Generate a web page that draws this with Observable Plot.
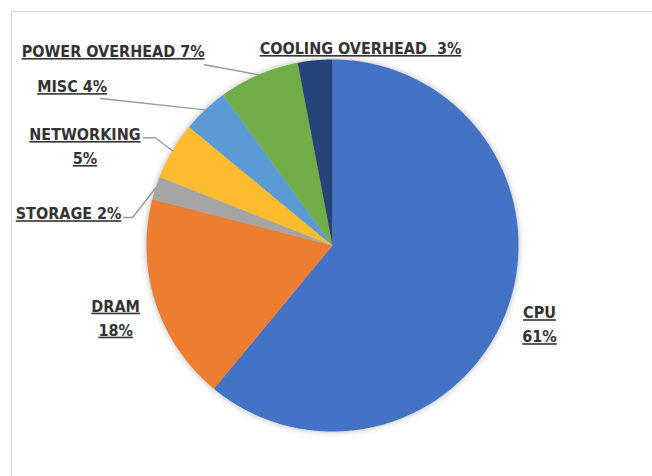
<!DOCTYPE html>
<html>
<head>
<meta charset="utf-8">
<script src="https://cdn.jsdelivr.net/npm/d3@7"></script>
<script src="https://cdn.jsdelivr.net/npm/@observablehq/plot@0.6"></script>
<style>
  html, body { margin: 0; padding: 0; background: #fff; }
  #wrap { position: relative; width: 652px; height: 476px; overflow: hidden; }
  #frame { position: absolute; left: 11px; top: 11px; width: 700px; height: 520px;
           border-left: 1.5px solid #d9d9d9; border-top: 1.5px solid #d9d9d9; pointer-events: none; }
  #chart svg text { text-decoration: underline; text-decoration-thickness: 1.5px; }
</style>
</head>
<body>
<div id="wrap"><div id="chart"></div><div id="frame"></div></div>
<script>
// ---- data ----
const categories = ["CPU", "DRAM", "STORAGE", "NETWORKING", "MISC", "POWER OVERHEAD", "COOLING OVERHEAD"];
const shares = [61, 18, 2, 5, 4, 7, 3];
const labelTexts = ["CPU\n61%", "DRAM\n18%", "STORAGE 2%", "NETWORKING\n5%", "MISC 4%", "POWER OVERHEAD 7%", "COOLING OVERHEAD  3%"];
const colors = ["#4472C4", "#ED7D31", "#A5A5A5", "#FDBB30", "#5B9BD5", "#70AD47", "#264478"];

// ---- layout (pixels, relative to the slice's outer mid point) ----
const R = 186;            // pie radius in px
const CX = 332, CY = 245; // pie centre in px
const W = 652, H = 476;
const labelOffset = {
  "CPU": [32, 14], "DRAM": [-40, 13], "STORAGE": [-87, 23.5], "NETWORKING": [-87.5, -6.5],
  "MISC": [-133, -25.5], "POWER OVERHEAD": [-145.5, -25.5], "COOLING OVERHEAD": [45.5, -14]
};
const leaderPts = {
  "STORAGE": [[-32, 29.5], [-23, 29.5]],
  "NETWORKING": [[-29, -13], [-17, -13]],
  "MISC": [[-104.6, -11.4]],
  "POWER OVERHEAD": [[-54, -10]]
};

const arcs = d3.pie().sort(null).value(d => d)(shares);
const slices = [];
const labels = [];
const leaders = [];
arcs.forEach((a, i) => {
  const cat = categories[i];
  slices.push({cat, x: 0, y: 0});
  const n = Math.max(2, Math.ceil((a.endAngle - a.startAngle) / 0.01));
  for (let k = 0; k <= n; k++) {
    const t = a.startAngle + (a.endAngle - a.startAngle) * k / n;
    slices.push({cat, x: Math.sin(t), y: Math.cos(t)});
  }
  slices.push({cat, x: 0, y: 0});
  const mid = (a.startAngle + a.endAngle) / 2;
  const mx = Math.sin(mid), my = Math.cos(mid);
  const [ox, oy] = labelOffset[cat];
  labels.push({cat, text: labelTexts[i], x: mx + ox / R, y: my - oy / R});
  if (leaderPts[cat]) {
    leaderPts[cat].forEach(([px, py]) => leaders.push({cat, x: mx + px / R, y: my - py / R}));
    leaders.push({cat, x: mx, y: my});
  }
});

const chart = Plot.plot({
  width: W, height: H,
  marginTop: 0, marginRight: 0, marginBottom: 0, marginLeft: 0,
  x: {domain: [-CX / R, (W - CX) / R], axis: null},
  y: {domain: [-(H - CY) / R, CY / R], axis: null},
  color: {domain: categories, range: colors},
  style: {fontFamily: "'Liberation Sans Narrow', 'DejaVu Sans Condensed', sans-serif", background: "transparent"},
  marks: [
    Plot.line(slices, {x: "x", y: "y", z: "cat", fill: "cat", stroke: "none", curve: "linear"}),
    Plot.line(leaders, {x: "x", y: "y", z: "cat", stroke: "#9a9a9a", strokeWidth: 1.4}),
    Plot.text(labels, {x: "x", y: "y", text: "text", textAnchor: "middle", lineHeight: 1.5,
      fontSize: 16, fontWeight: "bold", fill: "#333333"})
  ]
});
document.getElementById("chart").appendChild(chart);
const pieGroup = chart.querySelector("g[aria-label='line']");
if (pieGroup) pieGroup.style.filter = "drop-shadow(0px 0px 3px rgba(0,0,0,0.3))";
</script>
</body>
</html>
